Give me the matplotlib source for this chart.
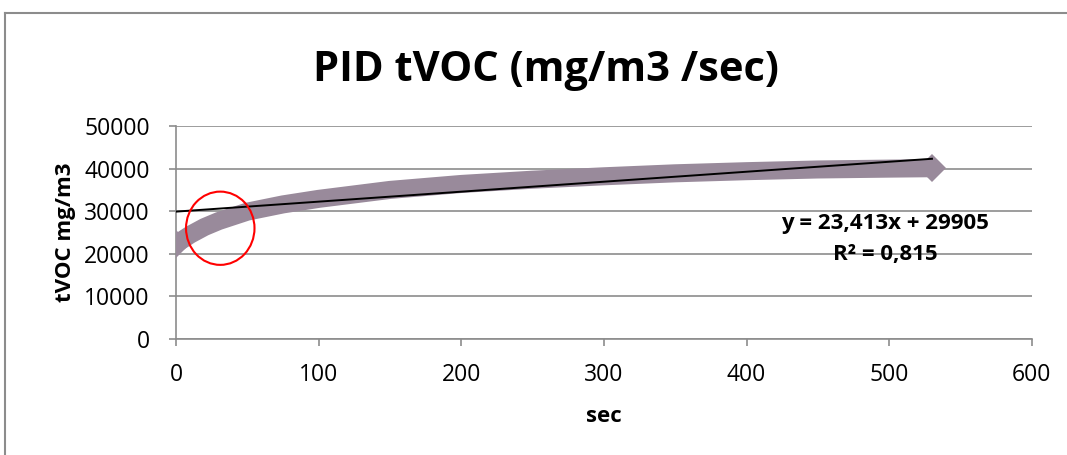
import matplotlib
matplotlib.use("Agg")
import matplotlib.pyplot as plt
from matplotlib.patches import Ellipse
from matplotlib.lines import Line2D

# ------------------------------------------------------------------
# Dados
# ------------------------------------------------------------------
sec = [0, 10, 20, 30, 50, 75, 100, 150, 200, 250, 300, 350, 400, 450, 500, 530]
tvoc = [22300, 24500, 26300, 27700, 29900, 31600, 32900, 35000, 36400,
        37400, 38200, 38900, 39400, 39800, 40000, 40100]

slope = 23.413
intercept = 29905
eq_text = "y = 23,413x + 29905"
r2_text = "R² = 0,815"

x_ticks = [0, 100, 200, 300, 400, 500, 600]
y_ticks = [0, 10000, 20000, 30000, 40000, 50000]

GRAY = "#8c8c8c"
MAUVE = "#998a9b"

plt.rcParams["font.family"] = ["Open Sans", "DejaVu Sans"]

fig = plt.figure(figsize=(10.67, 4.55), dpi=100)
ax = fig.add_axes([0.165, 0.255, 0.802, 0.468])

# série principal (linha grossa com losangos nas pontas)
ax.plot(sec, tvoc, color=MAUVE, linewidth=13, solid_capstyle="butt",
        solid_joinstyle="round", marker="D", markersize=14,
        markevery=[0, len(sec) - 1], markeredgewidth=0, zorder=3)

# linha de tendência
trend_x = [sec[0], sec[-1]]
trend_y = [intercept + slope * v for v in trend_x]
ax.plot(trend_x, trend_y, color="black", linewidth=1.4, zorder=4)

# círculo vermelho de destaque
ax.add_patch(Ellipse((31, 26000), 48, 17200, fill=False, edgecolor="red",
                     linewidth=1.5, zorder=5))

ax.text(497, 27200, eq_text, ha="center", va="center", fontsize=16,
        fontweight="bold")
ax.text(497, 19900, r2_text, ha="center", va="center", fontsize=16,
        fontweight="bold")

ax.set_xlim(0, 600)
ax.set_ylim(0, 50000)
ax.set_xticks(x_ticks)
ax.set_yticks(y_ticks)
ax.set_xticklabels([str(v) for v in x_ticks])
ax.set_yticklabels([str(v) for v in y_ticks])
ax.tick_params(axis="both", colors=GRAY, labelcolor="black", labelsize=16.5,
               length=5, width=1.2, direction="out")
ax.tick_params(axis="x", pad=12)
ax.tick_params(axis="y", pad=14)

ax.grid(axis="y", color=GRAY, linewidth=1.2)
ax.set_axisbelow(True)
for side in ["top", "right"]:
    ax.spines[side].set_visible(False)
for side in ["left", "bottom"]:
    ax.spines[side].set_color(GRAY)
    ax.spines[side].set_linewidth(1.2)

ax.set_xlabel("sec", fontsize=16, fontweight="bold", labelpad=14)
ax.set_ylabel("tVOC mg/m3", fontsize=16, fontweight="bold", labelpad=6)
fig.text(0.512, 0.846, "PID tVOC (mg/m3 /sec)", ha="center", va="center",
         fontsize=30, fontweight="bold")

# moldura externa do gráfico
fig.add_artist(Line2D([5 / 1067, 5 / 1067], [0, 1 - 13 / 455],
                      transform=fig.transFigure, color=GRAY, linewidth=1.5))
fig.add_artist(Line2D([5 / 1067, 1], [1 - 13 / 455, 1 - 13 / 455],
                      transform=fig.transFigure, color=GRAY, linewidth=1.5))

fig.savefig("out.png", dpi=100, facecolor="white")
